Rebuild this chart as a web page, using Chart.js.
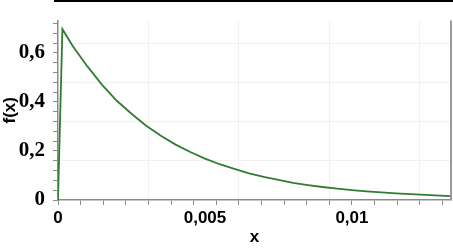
<!DOCTYPE html>
<html lang="en">
<head>
    <meta charset="UTF-8">
    <title>f(x)</title>
    <script src="https://cdn.jsdelivr.net/npm/chart.js"></script>
    <style>
        html, body { margin: 0; padding: 0; background: #fff; }
        #wrap { width: 453px; height: 251px; }
    </style>
</head>
<body>
    <div id="wrap"><canvas id="fxChart" width="453" height="251"></canvas></div>

    <script>
        // values
        const xValues = [0, 0.00003, 0.00015, 0.0005, 0.001, 0.0015, 0.002, 0.0025, 0.003, 0.0035, 0.004,
            0.0045, 0.005, 0.0055, 0.006, 0.0065, 0.007, 0.0075, 0.008, 0.0085, 0.009, 0.0095,
            0.01, 0.0105, 0.011, 0.0115, 0.012, 0.0125, 0.013, 0.0134];
        const fValues = [0, 0, 0.697, 0.628, 0.545, 0.470, 0.405, 0.352, 0.303, 0.262, 0.226,
            0.196, 0.169, 0.146, 0.127, 0.109, 0.094, 0.082, 0.070, 0.061, 0.053, 0.046,
            0.040, 0.035, 0.031, 0.027, 0.024, 0.021, 0.018, 0.016];

        // tick labels
        const xLabelValues = [0, 0.005, 0.01];
        const yLabelValues = [0, 0.2, 0.4, 0.6];
        const xMinorStep = 0.01 / 13;
        const yMinorStep = 0.04;
        const xMax = 0.01337;
        const yMax = 0.732;

        const fmt = v => String(v).replace('.', ',');
        const near = (a, b) => Math.abs(a - b) < 1e-9;

        function minorIndex(v, step) {
            const i = Math.round(v / step);
            return near(v, i * step) ? i : -1;
        }

        // top and right frame lines
        const framePlugin = {
            id: 'frame',
            afterDraw(chart) {
                const { ctx, chartArea: a } = chart;
                ctx.save();
                ctx.strokeStyle = '#000';
                ctx.lineWidth = 2;
                ctx.beginPath();
                ctx.moveTo(a.left - 4, 1);
                ctx.lineTo(chart.width, 1);
                ctx.stroke();
                ctx.strokeStyle = '#9a9a9a';
                ctx.beginPath();
                ctx.moveTo(a.right, a.top);
                ctx.lineTo(a.right, a.bottom);
                ctx.stroke();
                ctx.restore();
            }
        };

        const points = xValues.map((x, i) => ({ x: x, y: fValues[i] }));

        new Chart(document.getElementById('fxChart'), {
            type: 'line',
            data: {
                datasets: [{
                    data: points,
                    borderColor: '#2f7d32',
                    borderWidth: 1.8,
                    pointRadius: 0,
                    tension: 0,
                    fill: false
                }]
            },
            options: {
                responsive: false,
                animation: false,
                layout: { padding: { top: 1, right: 2, left: 0, bottom: 0 } },
                plugins: { legend: { display: false }, tooltip: { enabled: false } },
                scales: {
                    x: {
                        type: 'linear',
                        min: 0,
                        max: xMax,
                        afterBuildTicks: scale => {
                            const t = [];
                            for (let i = 0; i * xMinorStep <= xMax; i++) t.push({ value: i * xMinorStep });
                            xLabelValues.forEach(v => {
                                if (!t.some(k => near(k.value, v))) t.push({ value: v });
                            });
                            t.sort((a, b) => a.value - b.value);
                            scale.ticks = t;
                        },
                        afterFit: scale => { scale.height = 51; },
                        ticks: {
                            autoSkip: false,
                            maxRotation: 0,
                            padding: 3,
                            color: '#000',
                            font: { family: 'Liberation Sans', size: 17, weight: 'bold' },
                            callback: v => xLabelValues.some(l => near(l, v)) ? fmt(v) : ''
                        },
                        grid: {
                            tickLength: 5,
                            color: c => {
                                const i = minorIndex(c.tick.value, xMinorStep);
                                return (i > 0 && i % 4 === 0) ? '#f1f1f1' : 'rgba(0,0,0,0)';
                            },
                            tickColor: c => minorIndex(c.tick.value, xMinorStep) >= 0 ? '#8a8a8a' : 'rgba(0,0,0,0)'
                        },
                        border: { color: '#8a8a8a', width: 1.5 },
                        title: {
                            display: true,
                            text: 'x',
                            color: '#000',
                            padding: { top: 0, bottom: 3 },
                            font: { family: 'Liberation Sans', size: 17, weight: 'bold' }
                        }
                    },
                    y: {
                        min: 0,
                        max: yMax,
                        afterBuildTicks: scale => {
                            const t = [];
                            for (let i = 0; i * yMinorStep <= yMax; i++) t.push({ value: i * yMinorStep });
                            scale.ticks = t;
                        },
                        afterFit: scale => { scale.width = 58; },
                        ticks: {
                            autoSkip: false,
                            padding: 8,
                            color: '#000',
                            font: { family: 'Liberation Serif', size: 21, weight: 'bold' },
                            callback: v => yLabelValues.some(l => near(l, v)) ? fmt(Math.round(v * 10) / 10) : ''
                        },
                        grid: {
                            tickLength: 5,
                            color: c => {
                                const i = minorIndex(c.tick.value, yMinorStep);
                                return (i > 0 && i % 4 === 0) ? '#f1f1f1' : 'rgba(0,0,0,0)';
                            },
                            tickColor: '#8a8a8a'
                        },
                        border: { color: '#8a8a8a', width: 1.5 },
                        title: {
                            display: true,
                            text: 'f(x)',
                            color: '#000',
                            padding: { top: 0, bottom: 0 },
                            font: { family: 'Liberation Sans', size: 17, weight: 'bold' }
                        }
                    }
                }
            },
            plugins: [framePlugin]
        });
    </script>
</body>
</html>
